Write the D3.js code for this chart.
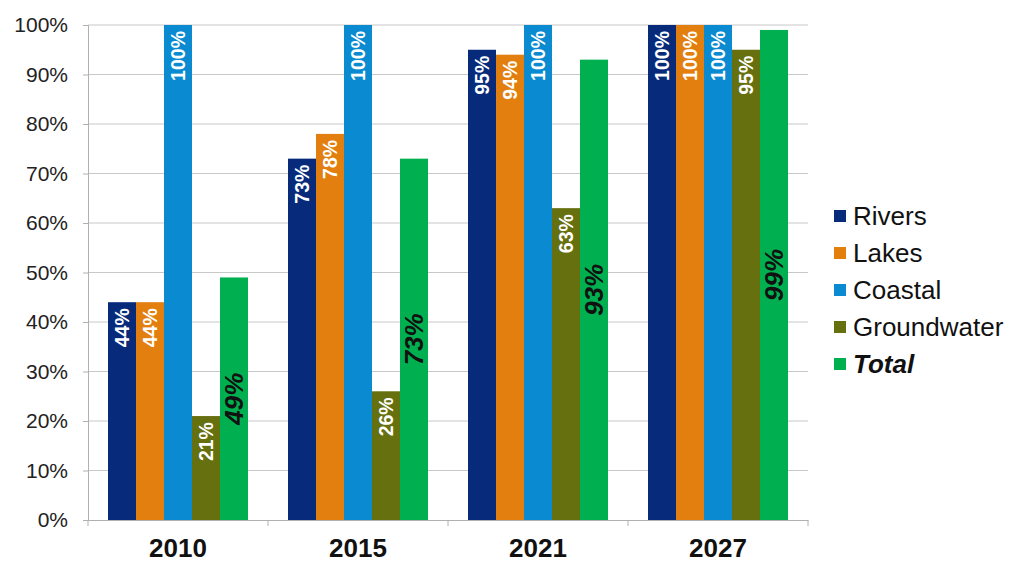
<!DOCTYPE html>
<html><head><meta charset="utf-8">
<script src="https://cdn.jsdelivr.net/npm/d3@7"></script>
<style>body{margin:0;background:#fff;font-family:"Liberation Sans",Arial,sans-serif;}</style>
</head><body>
<svg id="c" width="1024" height="581"></svg>
<script>
const years = ["2010","2015","2021","2027"];
const seriesNames = ["Rivers","Lakes","Coastal","Groundwater","Total"];
const rivers = [44,73,95,100];
const lakes = [44,78,94,100];
const coastal = [100,100,100,100];
const groundwater = [21,26,63,95];
const total = [49,73,93,99];
const colors = ["#072b7a","#e27f0e","#0a8ad0","#66700f","#00b050"];
const yTicks = [0,10,20,30,40,50,60,70,80,90,100];

const values = [rivers,lakes,coastal,groundwater,total];
const svg = d3.select("#c");
const L=88,R=808,T=25,B=520;
const x = d3.scaleBand().domain(years).range([L,R]);
const xi = d3.scaleBand().domain(seriesNames).range([0,x.bandwidth()]).paddingOuter(20/28).paddingInner(0);
const y = d3.scaleLinear().domain([0,100]).range([B,T]);

// gridlines
svg.append("g").selectAll("line").data(yTicks.filter(d=>d>0)).join("line")
 .attr("x1",L).attr("x2",R).attr("y1",d=>y(d)).attr("y2",d=>y(d))
 .attr("stroke","#c8c8c8").attr("stroke-width",1);

// y axis
const ya = svg.append("g").attr("transform",`translate(${L},0)`)
 .call(d3.axisLeft(y).tickValues(yTicks).tickFormat(d=>d+"%").tickSize(5).tickPadding(15));
ya.select(".domain").attr("stroke","#b0b0b0");
ya.selectAll(".tick line").attr("stroke","#b0b0b0");
ya.selectAll("text").attr("font-size",21).attr("fill","#222").attr("font-family","Liberation Sans, Arial, sans-serif");

// bars
seriesNames.forEach((s,si)=>{
  const g = svg.append("g");
  g.selectAll("rect").data(years).join("rect")
   .attr("x",d=>x(d)+xi(s)).attr("width",xi.bandwidth())
   .attr("y",(d,i)=>y(values[si][i])).attr("height",(d,i)=>B-y(values[si][i]))
   .attr("fill",colors[si]);
});

// x axis
const xa = svg.append("g").attr("transform",`translate(0,${B})`)
 .call(d3.axisBottom(x).tickSize(0).tickPadding(19));
xa.select(".domain").attr("stroke","#b0b0b0");
xa.selectAll("text").attr("font-size",26).attr("font-weight","bold").attr("fill","#111").attr("font-family","Liberation Sans, Arial, sans-serif");
svg.append("g").selectAll("line").data([L,...years.map(d=>x(d)+x.bandwidth())]).join("line")
 .attr("x1",d=>d).attr("x2",d=>d).attr("y1",B).attr("y2",B+6).attr("stroke","#b0b0b0");

// labels
seriesNames.forEach((s,si)=>{
  years.forEach((yr,i)=>{
    const v = values[si][i];
    const cx = x(yr)+xi(s)+xi.bandwidth()/2;
    if(s==="Total"){
      const cy = (y(v)+B)/2;
      svg.append("text").attr("transform",`translate(${cx+9},${cy}) rotate(-90)`)
       .attr("text-anchor","middle").attr("font-size",26).attr("font-weight","bold").attr("font-style","italic")
       .attr("fill","#111").text(v+"%");
    } else {
      svg.append("text").attr("transform",`translate(${cx+7},${y(v)+6}) rotate(-90)`)
       .attr("text-anchor","end").attr("font-size",19.5).attr("font-weight","bold")
       .attr("fill", "#fff").text(v+"%");
    }
  });
});

// legend
const lg = svg.append("g");
seriesNames.forEach((s,i)=>{
  const cy = 216 + i*37;
  lg.append("rect").attr("x",834).attr("y",cy-6).attr("width",12).attr("height",12).attr("fill",colors[i]);
  lg.append("text").attr("x",853).attr("y",cy+9).attr("font-size",26).attr("fill","#111")
   .attr("font-weight",s==="Total"?"bold":"normal").attr("font-style",s==="Total"?"italic":"normal").text(s);
});
</script>
</body></html>
